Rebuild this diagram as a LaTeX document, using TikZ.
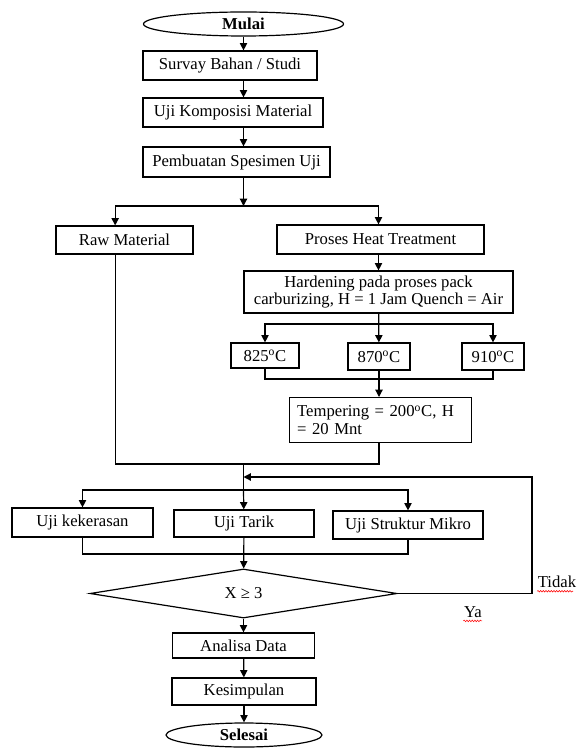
\documentclass[tikz,border=0pt]{standalone}
\usepackage{fontspec}
\setmainfont{Liberation Serif}
\usetikzlibrary{shapes.geometric,arrows.meta,decorations.pathmorphing}

\tikzset{
	kotak/.style={draw, line width=0.9pt, inner sep=2pt, align=center},
	oval/.style={draw, ellipse, line width=0.9pt, inner sep=0pt, font=\fontsize{12.5}{13}\selectfont\bfseries},
	belah/.style={draw, diamond, line width=0.9pt, inner sep=0pt},
	panah/.style={-{Triangle[length=5.5pt,width=5.5pt]}, line width=0.9pt},
	garis/.style={line width=0.9pt},
	salah/.style={red, line width=0.4pt, decorate, decoration={snake, amplitude=0.6pt, segment length=2pt}}
}

\begin{document}
\begin{tikzpicture}[x=0.75pt, y=-0.75pt, font=\fontsize{12.5}{13}\selectfont]
	\useasboundingbox (0,0) rectangle (581,748);
	
	% alur atas
	\node[oval, minimum width=150pt, minimum height=18pt] (mulai) at (243.5,24) {Mulai};
	\node[kotak, minimum width=130.5pt, minimum height=21.75pt] (survay) at (230,65.5) {Survay Bahan / Studi};
	\node[kotak, minimum width=135pt, minimum height=21.75pt] (komposisi) at (233,112.5) {Uji Komposisi Material};
	\node[kotak, minimum width=140.25pt, minimum height=22.5pt] (pembuatan) at (236.5,162) {Pembuatan Spesimen Uji};
	
	% cabang material
	\node[kotak, minimum width=102.75pt, minimum height=21pt] (raw) at (124.5,240) {Raw Material};
	\node[kotak, minimum width=155.25pt, minimum height=21.75pt] (heat) at (380.5,239.5) {Proses Heat Treatment};
	\node[kotak, minimum width=201.75pt, minimum height=31.5pt] (harden) at (378.5,292) {Hardening pada proses pack\\carburizing, H = 1 Jam Quench = Air};
	\node[kotak, minimum width=51pt, minimum height=18.75pt] (t825) at (265,355.5) {825\textsuperscript{o}C};
	\node[kotak, minimum width=46.5pt, minimum height=20.25pt] (t870) at (379,356.5) {870\textsuperscript{o}C};
	\node[kotak, minimum width=46.5pt, minimum height=20.25pt] (t910) at (493,356.5) {910\textsuperscript{o}C};
	\node[kotak, align=left, text width=125pt, inner sep=6pt, minimum height=31.5pt] (temper) at (380.5,420) {Tempering = 200\textsuperscript{o}C, H\\= 20 Mnt};
	
	% pengujian
	\node[kotak, minimum width=105.75pt, minimum height=21.75pt] (keras) at (82.5,522.5) {Uji kekerasan};
	\node[kotak, minimum width=105pt, minimum height=20.25pt] (tarik) at (244,523.5) {Uji Tarik};
	\node[kotak, minimum width=112.5pt, minimum height=21pt] (mikro) at (408,525) {Uji Struktur Mikro};
	\node[belah, minimum width=230.25pt, minimum height=33.75pt] (keputusan) at (243.5,593.5) {X ≥ 3};
	\node[kotak, minimum width=106.5pt, minimum height=18.75pt] (analisa) at (243.5,645.5) {Analisa Data};
	\node[kotak, minimum width=108pt, minimum height=20.25pt] (simpulan) at (244,691.5) {Kesimpulan};
	\node[oval, minimum width=117pt, minimum height=18pt] (selesai) at (244,735) {Selesai};
	
	\node (tidak) at (557,582) {Tidak};
	\node (ya) at (473,612) {Ya};
	\draw[salah] (tidak.south west) ++(3pt,1pt) -- ++(27pt,0);
	\draw[salah] (ya.south west) ++(3pt,1pt) -- ++(14pt,0);
	
	% titik cabang
	\coordinate (cabang1) at (243.5,206);
	\coordinate (cabang2) at (378.5,324);
	\coordinate (gabung2) at (379,379);
	\coordinate (gabung1) at (243.5,464);
	\coordinate (masuk) at (243.5,477);
	\coordinate (cabang3) at (243.5,490);
	\coordinate (gabung3) at (243.5,554);
	\coordinate (balik) at (532,477);
	
	% panah
	\draw[panah] (mulai) -- (survay.north -| mulai);
	\draw[panah] (survay.south -| mulai) -- (komposisi.north -| mulai);
	\draw[panah] (komposisi.south -| mulai) -- (pembuatan.north -| mulai);
	\draw[panah] (pembuatan.south -| mulai) -- (cabang1);
	\draw[panah] (cabang1) -| ([xshift=-7pt]raw.north);
	\draw[panah] (cabang1) -| (heat.north -| harden.north);
	\draw[panah] (heat.south -| harden.north) -- (harden.north);
	\draw[panah] (harden) -- (t870);
	\draw[panah] (cabang2) -| (t825);
	\draw[panah] (cabang2) -| (t910);
	\draw[garis] (t825) |- (gabung2) -| (t910);
	\draw[panah] (t870) -- (t870 |- temper.north);
	\draw[garis] ([xshift=-7pt]raw.south) |- (gabung1);
	\draw[garis] (temper.south -| t870) |- (gabung1);
	\draw[garis] (gabung1) -- (cabang3);
	\draw[panah] (cabang3) -| (keras);
	\draw[panah] (cabang3) -- (tarik);
	\draw[panah] (cabang3) -| (mikro);
	\draw[garis] (keras) |- (gabung3) -| (mikro);
	\draw[panah] (tarik) -- (keputusan);
	\draw[panah] (keputusan.east) -| (balik) -- (masuk);
	\draw[panah] (keputusan) -- (analisa);
	\draw[panah] (analisa) -- (simpulan);
	\draw[panah] (simpulan) -- (selesai);
	
\end{tikzpicture}
\end{document}
